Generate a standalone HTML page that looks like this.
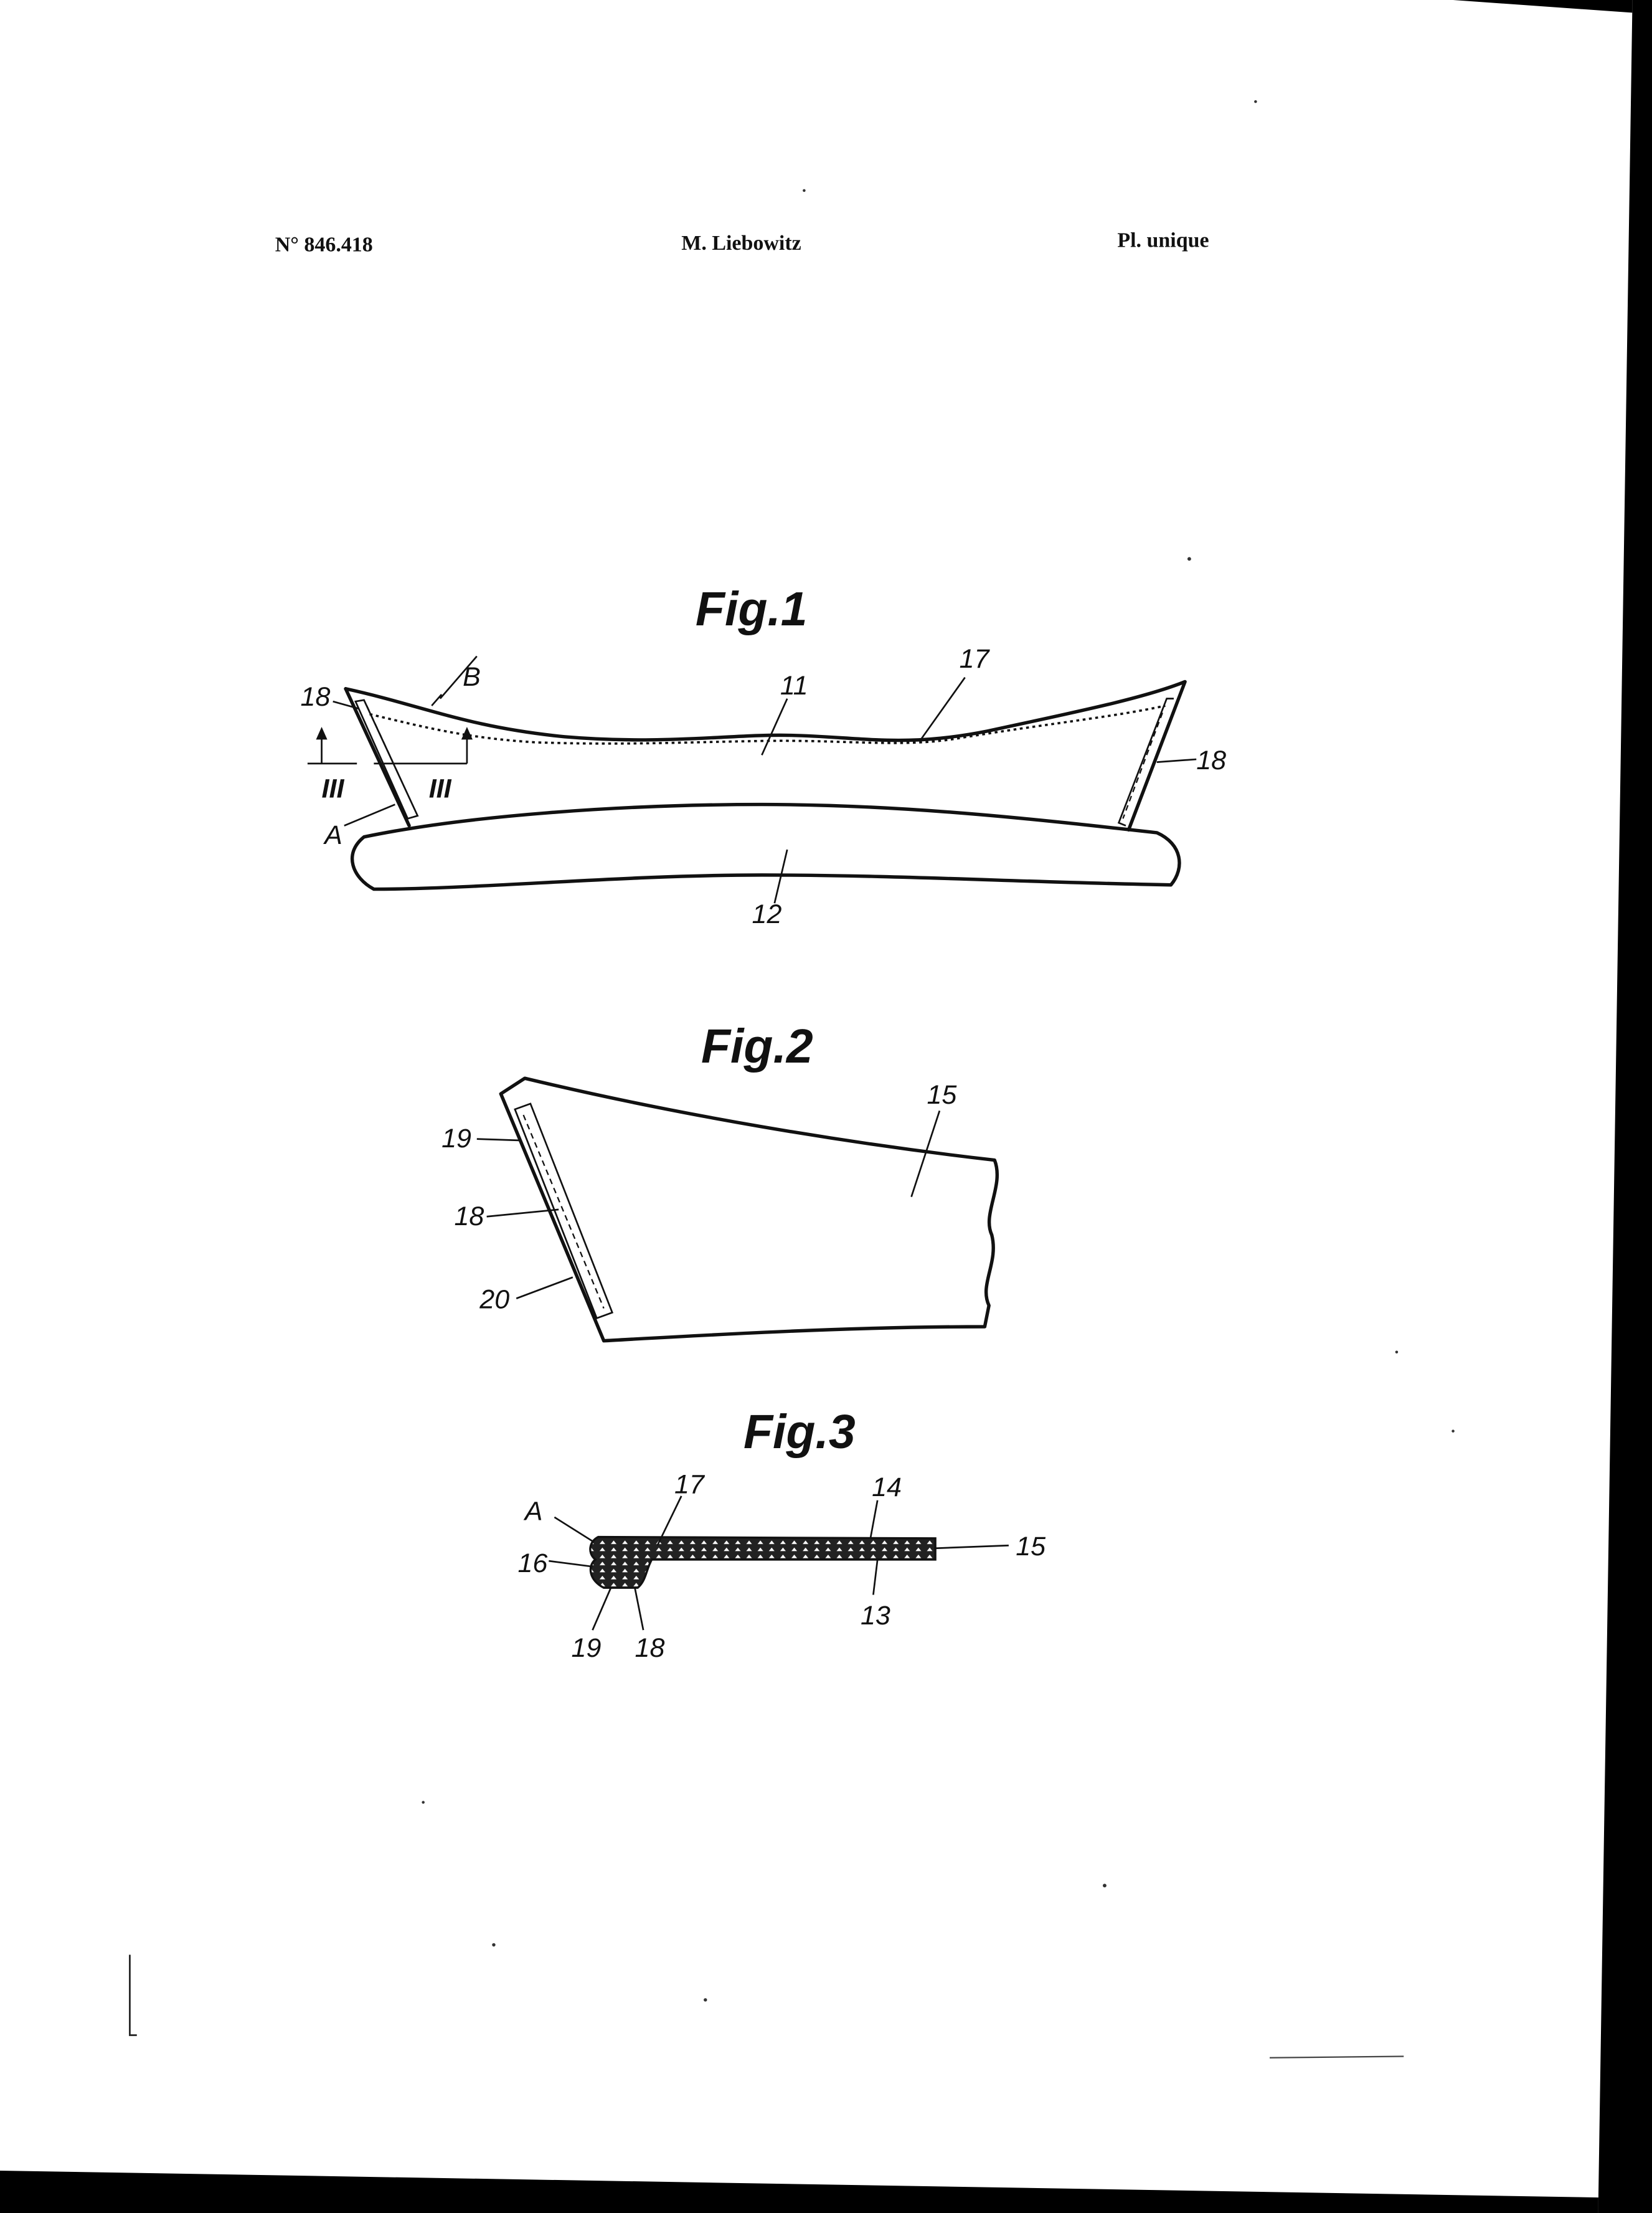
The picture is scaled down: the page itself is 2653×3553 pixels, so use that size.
<!DOCTYPE html>
<html><head><meta charset="utf-8"><style>
html,body{margin:0;padding:0;background:#fff;}
svg{display:block;}
.hd{font-family:"Liberation Serif",serif;font-weight:bold;font-size:15px;fill:#111;}
.ft{font-family:"Liberation Sans",sans-serif;font-style:italic;font-weight:bold;font-size:34px;fill:#111;}
.lb{font-family:"Liberation Sans",sans-serif;font-style:italic;font-size:19px;fill:#111;}
.ln{fill:none;stroke:#111;stroke-width:2.4;stroke-linejoin:round;stroke-linecap:round;}
.th{fill:none;stroke:#111;stroke-width:1.2;}
.dt{fill:none;stroke:#111;stroke-width:1.6;stroke-dasharray:2 2.5;}
.ds{fill:none;stroke:#111;stroke-width:1;stroke-dasharray:4 3;}
</style></head><body>
<svg width="2653" height="3553" viewBox="0 0 1171 1568" preserveAspectRatio="none" xmlns="http://www.w3.org/2000/svg">
<defs>
<pattern id="tex" width="8" height="5" patternUnits="userSpaceOnUse">
<rect width="8" height="5" fill="#222"/><path d="M1 4 L3 1.5 L5 4 Z" fill="#fff"/>
</pattern>
</defs>
<rect width="1171" height="1568" fill="#fff"/>
<polygon points="1157,0 1171,0 1171,1568 1133,1568 1133,1557 1157,9" fill="#000"/>
<polygon points="1030,0 1157,0 1157,9" fill="#000"/>
<polygon points="0,1538 1133,1557 1133,1568 0,1568" fill="#000"/>

<text class="hd" x="195" y="178">N° 846.418</text>
<text class="hd" x="483" y="177">M. Liebowitz</text>
<text class="hd" x="792" y="175">Pl. unique</text>

<!-- Fig 1 -->
<g>
<text class="ft" x="493" y="443">Fig.1</text>
<path class="ln" d="M245,488 C300,500 330,515 400,522 C470,528 520,520 560,521 C610,522 640,530 700,518 C760,505 810,495 840,483 L800,588"/>
<path class="ln" d="M245,488 L290,585"/>
<path class="th" d="M252,497 L258,496 L296,578 L289,580 Z"/>
<path class="ds" d="M260,500 L296,578"/>
<path class="th" d="M832,495 L827,495 L793,583 L798,585"/>
<path class="ds" d="M824,505 L796,580"/>
<path class="dt" d="M262,506 C300,515 330,523 380,526 C440,528 480,526 540,525 C600,524 640,530 680,523 C740,513 790,508 826,500"/>
<path class="ln" d="M258,593 C330,578 440,570 540,570 C640,570 730,580 820,590 C838,598 840,615 830,627 C720,625 640,620 540,620 C440,620 340,630 265,630 C250,622 243,605 258,593 Z"/>
<path class="th" d="M312,495 L338,465 M306,500 L313,492"/>
<text class="lb" x="328" y="486">B</text>
<text class="lb" x="213" y="500">18</text>
<path class="th" d="M236,497 L254,502"/>
<text class="lb" x="848" y="545">18</text>
<path class="th" d="M820,540 L848,538"/>
<text class="lb" x="553" y="492">11</text>
<path class="th" d="M558,495 L540,535"/>
<text class="lb" x="680" y="473">17</text>
<path class="th" d="M684,480 L652,525"/>
<text class="lb" x="230" y="598">A</text>
<path class="th" d="M244,585 L280,570"/>
<path class="th" d="M218,541 L253,541 M265,541 L331,541 M228,541 L228,520 M331,541 L331,520"/>
<path d="M224,524 L228,515 L232,524 Z M327,524 L331,515 L335,524 Z" fill="#111"/>
<text class="lb" x="228" y="565" font-weight="bold">III</text>
<text class="lb" x="304" y="565" font-weight="bold">III</text>
<text class="lb" x="533" y="654">12</text>
<path class="th" d="M558,602 L549,640"/>
</g>

<!-- Fig 2 -->
<g>
<text class="ft" x="497" y="753">Fig.2</text>
<path class="ln" d="M355,775 L372,764 C480,790 600,810 705,822 C712,840 696,860 703,875 C708,895 694,910 701,925 L698,940 C600,940 500,946 428,950 Z"/>
<path class="th" d="M365,786 L376,782 L434,930 L423,934 Z"/>
<path class="ds" d="M371,790 L428,927"/>
<text class="lb" x="657" y="782">15</text>
<path class="th" d="M666,787 L646,848"/>
<text class="lb" x="313" y="813">19</text>
<path class="th" d="M338,807 L368,808"/>
<text class="lb" x="322" y="868">18</text>
<path class="th" d="M345,862 L396,857"/>
<text class="lb" x="340" y="927">20</text>
<path class="th" d="M366,920 L406,905"/>
</g>

<!-- Fig 3 -->
<g>
<text class="ft" x="527" y="1026">Fig.3</text>
<path d="M424,1089 L663,1090 L663,1105 L462,1105 C458,1112 458,1120 452,1125 L428,1125 C418,1120 416,1110 422,1105 C416,1100 418,1092 424,1089 Z" fill="url(#tex)" stroke="#111" stroke-width="1.5"/>
<path class="th" d="M663,1097 L715,1095"/>
<text class="lb" x="720" y="1102">15</text>
<text class="lb" x="372" y="1077">A</text>
<path class="th" d="M393,1075 L420,1092"/>
<text class="lb" x="478" y="1058">17</text>
<path class="th" d="M483,1060 L466,1095"/>
<text class="lb" x="618" y="1060">14</text>
<path class="th" d="M622,1063 L617,1090"/>
<text class="lb" x="367" y="1114">16</text>
<path class="th" d="M389,1106 L420,1110"/>
<text class="lb" x="610" y="1151">13</text>
<path class="th" d="M622,1105 L619,1130"/>
<text class="lb" x="405" y="1174">19</text>
<path class="th" d="M433,1125 L420,1155"/>
<text class="lb" x="450" y="1174">18</text>
<path class="th" d="M450,1125 L456,1155"/>
</g>

<g fill="#333">
<circle cx="843" cy="396" r="1.3"/><circle cx="570" cy="135" r="1"/><circle cx="890" cy="72" r="1"/>
<circle cx="783" cy="1336" r="1.3"/><circle cx="350" cy="1378" r="1.2"/><circle cx="500" cy="1417" r="1.2"/>
<circle cx="300" cy="1277" r="1"/><circle cx="1030" cy="1014" r="1"/><circle cx="990" cy="958" r="1"/>
</g>
<path d="M92,1385 L92,1442 L97,1442" fill="none" stroke="#222" stroke-width="1.2"/>
<path d="M900,1458 L995,1457" fill="none" stroke="#444" stroke-width="1"/>
</svg>
</body></html>
